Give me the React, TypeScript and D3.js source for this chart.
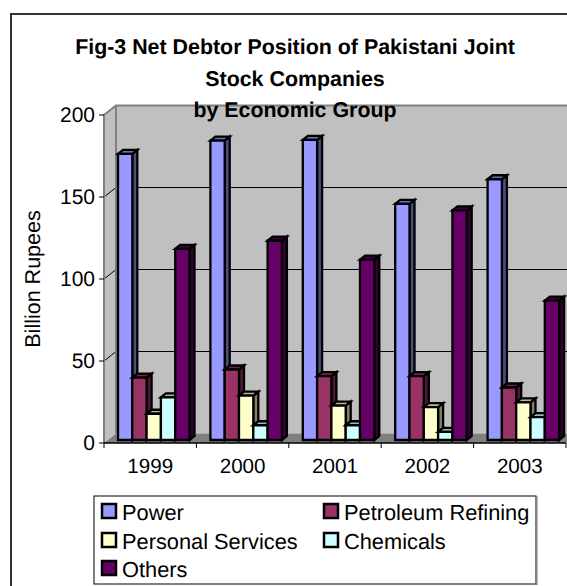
import React from "react";
import * as d3 from "d3";

const years = ["1999", "2000", "2001", "2002", "2003"];
const seriesNames = ["Power", "Petroleum Refining", "Personal Services", "Chemicals", "Others"];
const seriesColors = ["#9999ff", "#993366", "#ffffcc", "#ccffff", "#660066"];
const power = [174.5, 182.5, 183, 144, 159];
const petroleum = [38, 43, 39, 39, 32];
const personal = [16, 27, 21, 20, 23];
const chemicals = [26, 9, 9, 5, 14];
const others = [116.5, 121.5, 110, 140, 85];
const seriesValues = [power, petroleum, personal, chemicals, others];
const yTicks = [0, 50, 100, 150, 200];
const titleLines = ["Fig-3 Net Debtor Position of Pakistani Joint", "Stock Companies", "by Economic Group"];

const FONT = "'Liberation Sans', Arial, sans-serif";
const WIDTH = 567;
const HEIGHT = 586;

// Front plane of the 3D box and the offset of its back wall
const plot = { left: 104, right: 566, top: 115, bottom: 443 };
const wall = { dx: 12, dy: -9.5 };
// Offset of the bars from the front plane, and the depth of each bar
const barShift = { dx: 4, dy: -3 };
const depth = { dx: 5, dy: -4 };

const x = d3.scaleBand<string>().domain(years).range([plot.left, plot.right]);
const y = d3.scaleLinear().domain([0, 200]).range([plot.bottom, plot.top]);
const inner = d3.scaleBand<string>().domain(seriesNames).range([14, 85.5]);

const poly = (pts: [number, number][]) => {
  const line = d3.line();
  return line(pts) + "Z";
};

function shade(color: string, k: number) {
  const c = d3.rgb(color);
  return d3.rgb(c.r * k, c.g * k, c.b * k).formatHex();
}

function Bar({ year, name, value, color }: { year: string; name: string; value: number; color: string }) {
  const x0 = (x(year) as number) + (inner(name) as number);
  const x1 = x0 + inner.bandwidth();
  const yb = plot.bottom + barShift.dy;
  const yt = y(value) + barShift.dy;
  const { dx, dy } = depth;
  const stroke = { stroke: "#000", strokeWidth: 2.3, strokeLinejoin: "miter" as const };
  return (
    <g>
      <path d={poly([[x1, yt], [x1 + dx, yt + dy], [x1 + dx, yb + dy], [x1, yb]])} fill={shade(color, 0.5)} {...stroke} />
      <path d={poly([[x0, yt], [x0 + dx, yt + dy], [x1 + dx, yt + dy], [x1, yt]])} fill={shade(color, 0.72)} {...stroke} />
      <path d={poly([[x0, yt], [x1, yt], [x1, yb], [x0, yb]])} fill={color} {...stroke} />
    </g>
  );
}

function Label({ px, py, size, anchor = "start", weight = "normal", children }: any) {
  return (
    <text
      x={px}
      y={py}
      fontSize={size}
      fontFamily={FONT}
      fontWeight={weight}
      textAnchor={anchor}
      fill="#000"
      textRendering="geometricPrecision"
    >
      {children}
    </text>
  );
}

const legendCols = [102, 324];
const legendRows = [504, 533, 561];

export default function App() {
  const backLeft = plot.left + wall.dx;
  const backRight = plot.right + wall.dx;
  const backTop = plot.top + wall.dy;
  const backBottom = plot.bottom + wall.dy;
  return (
    <svg
      width={WIDTH}
      height={HEIGHT}
      viewBox={`0 0 ${WIDTH} ${HEIGHT}`}
      style={{ position: "absolute", left: 0, top: 0, background: "#fff" }}
    >
      {/* Chart frame runs past the right and bottom of the view */}
      <rect x={11} y={14} width={WIDTH + 20} height={HEIGHT + 20} fill="#fff" stroke="#333" strokeWidth={2} />

      {/* Box: back wall, side wall, floor */}
      <rect x={backLeft} y={backTop} width={backRight - backLeft} height={backBottom - backTop} fill="#c0c0c0" />
      <path
        d={poly([[plot.left, plot.top], [backLeft, backTop], [backLeft, backBottom], [plot.left, plot.bottom]])}
        fill="#c0c0c0"
      />
      <path
        d={poly([[plot.left, plot.bottom], [backLeft, backBottom], [backRight, backBottom], [plot.right, plot.bottom]])}
        fill="#808080"
      />

      {/* Gridlines across the back wall and down the side wall */}
      {yTicks.slice(1, -1).map((t) => (
        <g key={t} stroke="#000" strokeWidth={1}>
          <line x1={backLeft} x2={backRight} y1={y(t) + wall.dy} y2={y(t) + wall.dy} />
          <line x1={plot.left} x2={backLeft} y1={y(t)} y2={y(t) + wall.dy} />
        </g>
      ))}

      {/* Box edges */}
      <path
        d={`M${plot.left},${plot.bottom}V${plot.top}L${backLeft},${backTop}H${backRight}M${backLeft},${backTop}V${backBottom}`}
        fill="none"
        stroke="#808080"
        strokeWidth={2}
      />

      {/* Value axis */}
      {yTicks.map((t) => (
        <g key={t}>
          <line x1={plot.left - 5} x2={plot.left} y1={y(t)} y2={y(t)} stroke="#000" />
          <Label px={95} py={y(t) + 7} size={21} anchor="end">
            {t}
          </Label>
        </g>
      ))}

      {/* Category axis */}
      <line x1={plot.left} x2={plot.right} y1={plot.bottom} y2={plot.bottom} stroke="#000" strokeWidth={1.5} />
      {[...years.map((yr) => x(yr) as number), plot.right].map((tx) => (
        <line key={tx} x1={tx} x2={tx} y1={plot.bottom} y2={plot.bottom + 5} stroke="#000" />
      ))}
      {years.map((yr) => (
        <Label key={yr} px={(x(yr) as number) + x.bandwidth() / 2} py={473} size={20.6} anchor="middle">
          {yr}
        </Label>
      ))}

      {/* Bars */}
      {years.map((yr, i) => (
        <g key={yr}>
          {seriesNames.map((name, s) => (
            <Bar key={name} year={yr} name={name} value={seriesValues[s][i]} color={seriesColors[s]} />
          ))}
        </g>
      ))}

      {/* Title, three centred lines */}
      {titleLines.map((line, i) => (
        <Label key={line} px={295} py={[54, 85.5, 116.5][i]} size={21.4} anchor="middle" weight="bold">
          {line}
        </Label>
      ))}

      {/* Value axis title */}
      <text
        transform="translate(39.5,279) rotate(-90)"
        fontSize={21.5}
        fontFamily={FONT}
        textAnchor="middle"
        fill="#000"
        textRendering="geometricPrecision"
      >
        Billion Rupees
      </text>

      {/* Legend */}
      <rect x={94} y={496} width={442} height={88} fill="#fff" stroke="#000" strokeWidth={1} />
      <line x1={536.5} x2={536.5} y1={496} y2={585} stroke="#808080" strokeWidth={2} />
      {seriesNames.map((name, s) => {
        const cx = legendCols[s % 2];
        const cy = legendRows[Math.floor(s / 2)];
        return (
          <g key={name}>
            <rect x={cx} y={cy} width={14} height={14} fill={seriesColors[s]} stroke="#000" strokeWidth={2.5} />
            <Label px={cx + 20} py={cy + 15.5} size={21.8}>
              {name}
            </Label>
          </g>
        );
      })}
    </svg>
  );
}
